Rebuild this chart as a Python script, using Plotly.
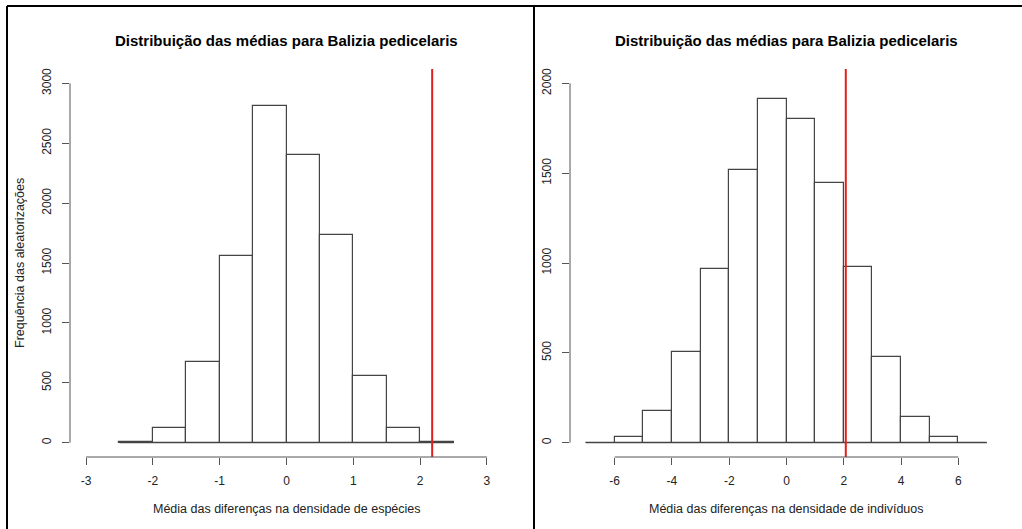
import plotly.graph_objects as go

# Histogram of mean differences in species density (left panel)
esp_breaks = [-2.5, -2.0, -1.5, -1.0, -0.5, 0.0, 0.5, 1.0, 1.5, 2.0, 2.5]
esp_counts = [8, 123, 670, 1559, 2810, 2405, 1735, 553, 123, 6]
esp_observed = 2.18
esp_xticks = [-3, -2, -1, 0, 1, 2, 3]
esp_yticks = [0, 500, 1000, 1500, 2000, 2500, 3000]

# Histogram of mean differences in individual density (right panel)
ind_breaks = [-7, -6, -5, -4, -3, -2, -1, 0, 1, 2, 3, 4, 5, 6, 7]
ind_counts = [0, 30, 178, 507, 969, 1515, 1911, 1800, 1443, 980, 479, 141, 30, 0]
ind_observed = 2.07
ind_xticks = [-6, -4, -2, 0, 2, 4, 6]
ind_yticks = [0, 500, 1000, 1500, 2000]

title_text = "Distribuição das médias para Balizia pedicelaris"
esp_xlabel = "Média das diferenças na densidade de espécies"
ind_xlabel = "Média das diferenças na densidade de indivíduos"
ylabel = "Frequência das aleatorizações"

W, H = 1022, 529
FONT = "Liberation Sans, Arial, sans-serif"
EDGE = "#444444"
AXIS = "#555555"
TXT = "#222222"


def px(x):
    return x / W


def py(y):
    return 1 - y / H


def ext(lo, hi):
    d = (hi - lo) * 0.04
    return [lo - d, hi + d]


def labels(vals):
    # plain hyphen-minus for negative numbers
    return [str(v) for v in vals]


fig = go.Figure()
y_dom = [py(457), py(69)]
panels = [
    ("x", "y", [px(70), px(503)], esp_breaks, esp_counts, esp_observed,
     esp_xticks, esp_yticks, ext(-3, 3), ext(0, 3000), esp_xlabel, True),
    ("x2", "y2", [px(570), px(1003)], ind_breaks, ind_counts, ind_observed,
     ind_xticks, ind_yticks, ext(-7, 7), ext(0, 2000), ind_xlabel, False),
]

shapes = []
annotations = []
for i, (xa, ya, xdom, br, cnt, obs, xt, yt, xr, yr, xlab, show_ylab) in enumerate(panels):
    centers = [(br[k] + br[k + 1]) / 2 for k in range(len(cnt))]
    widths = [br[k + 1] - br[k] for k in range(len(cnt))]
    fig.add_trace(go.Bar(
        x=centers, y=cnt, width=widths, base=0,
        marker=dict(color="white", line=dict(color=EDGE, width=1.2)),
        xaxis=xa, yaxis=ya, showlegend=False, hoverinfo="skip",
    ))
    # baseline of the histogram rectangles
    fig.add_trace(go.Scatter(
        x=[br[0], br[-1]], y=[0, 0], mode="lines",
        line=dict(color=EDGE, width=1.2),
        xaxis=xa, yaxis=ya, showlegend=False, hoverinfo="skip",
    ))
    # observed value
    fig.add_trace(go.Scatter(
        x=[obs, obs], y=[yr[0], yr[1]], mode="lines",
        line=dict(color="#e0201c", width=2),
        xaxis=xa, yaxis=ya, showlegend=False, hoverinfo="skip",
    ))
    sfx = "" if i == 0 else "2"
    fig.update_layout(**{
        "xaxis" + sfx: dict(
            domain=xdom, range=xr, anchor=ya, showgrid=False, zeroline=False,
            showline=False, tickmode="array", tickvals=xt, ticktext=labels(xt),
            ticks="outside", ticklen=7, tickcolor=AXIS, tickwidth=1,
            tickfont=dict(family=FONT, size=12, color=TXT),
            ticklabelstandoff=6,
        ),
        "yaxis" + sfx: dict(
            domain=y_dom, range=yr, anchor=xa, showgrid=False, zeroline=False,
            showline=False, tickmode="array", tickvals=yt, ticktext=labels(yt),
            ticks="outside", ticklen=7, tickcolor=AXIS, tickwidth=1,
            tickangle=-90,
            tickfont=dict(family=FONT, size=12, color=TXT),
            ticklabelstandoff=6,
        ),
    })
    # axis lines spanning first to last tick
    shapes.append(dict(type="line", xref="paper", yref=ya,
                       x0=xdom[0], x1=xdom[0], y0=yt[0], y1=yt[-1],
                       line=dict(color=AXIS, width=1)))
    shapes.append(dict(type="line", xref=xa, yref="paper",
                       x0=xt[0], x1=xt[-1], y0=y_dom[0], y1=y_dom[0],
                       line=dict(color=AXIS, width=1)))
    cx = (xdom[0] + xdom[1]) / 2
    annotations.append(dict(text="<b>" + title_text + "</b>", x=cx, y=py(40),
                            xref="paper", yref="paper", showarrow=False,
                            xanchor="center", yanchor="middle",
                            font=dict(family=FONT, size=15, color="black")))
    annotations.append(dict(text=xlab, x=cx, y=py(509), xref="paper", yref="paper",
                            showarrow=False, xanchor="center", yanchor="middle",
                            font=dict(family=FONT, size=12.5, color=TXT)))
    if show_ylab:
        annotations.append(dict(text=ylabel, x=px(20), y=(y_dom[0] + y_dom[1]) / 2,
                                xref="paper", yref="paper", showarrow=False,
                                textangle=-90, xanchor="center", yanchor="middle",
                                font=dict(family=FONT, size=12.5, color=TXT)))

# frame lines around the two panels
for x0, y0, x1, y1 in [(7, 6, 1022, 6), (7, 6, 7, 529), (534, 6, 534, 529)]:
    shapes.append(dict(type="line", xref="paper", yref="paper",
                       x0=px(x0), y0=py(y0), x1=px(x1), y1=py(y1),
                       line=dict(color="black", width=2)))

fig.update_layout(
    width=W, height=H, margin=dict(l=0, r=0, t=0, b=0),
    paper_bgcolor="white", plot_bgcolor="white",
    shapes=shapes, annotations=annotations, bargap=0,
)

fig.write_html("out.html")
